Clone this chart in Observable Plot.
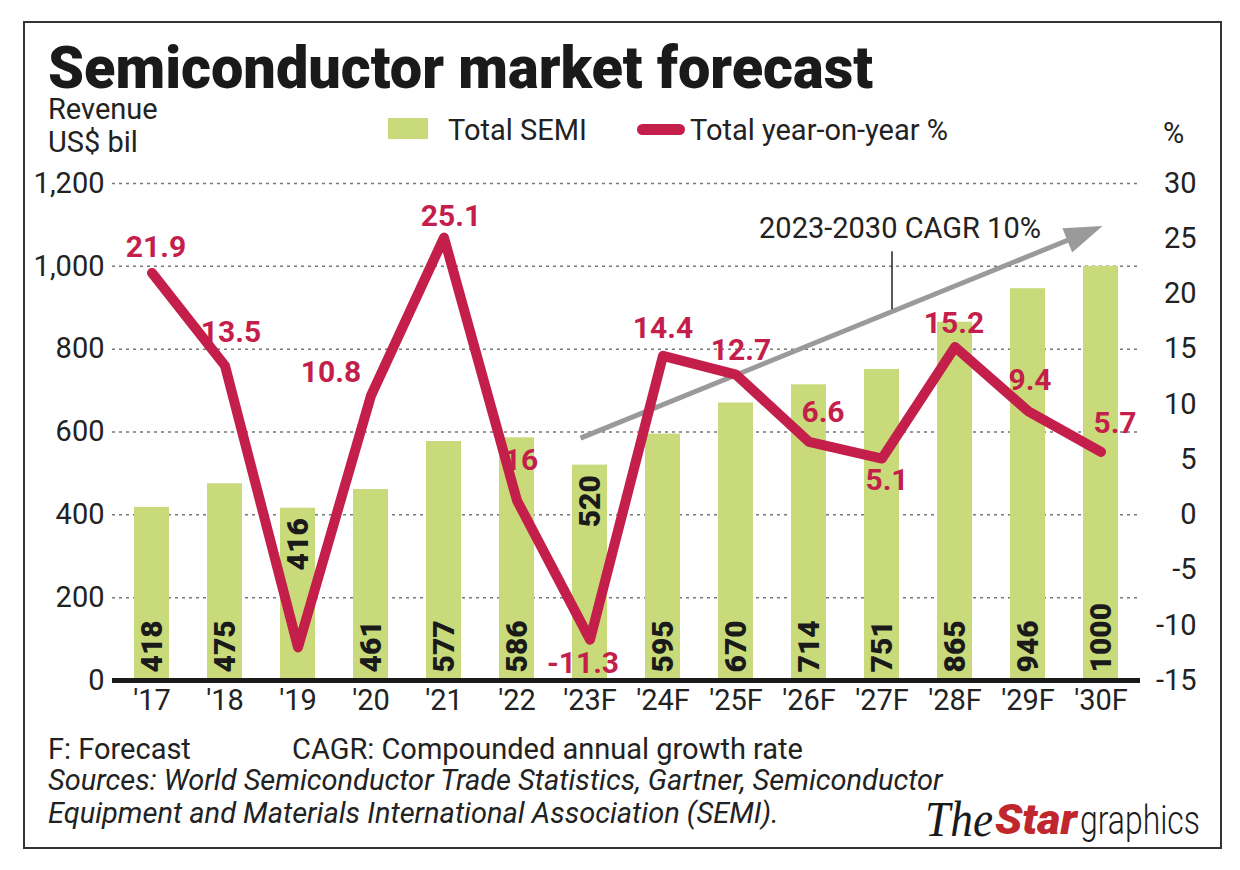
<!DOCTYPE html>
<html><head><meta charset="utf-8">
<script src="https://cdn.jsdelivr.net/npm/d3@7"></script>
<script src="https://cdn.jsdelivr.net/npm/@observablehq/plot@0.6"></script>
<style>
body{margin:0;background:#fff;font-family:Roboto,sans-serif;color:#222;}
#page{position:relative;width:1240px;height:870px;overflow:hidden;background:#fff;}
#frame{position:absolute;left:23px;top:21px;width:1195px;height:824px;border:2px solid #333;}
.t{position:absolute;white-space:nowrap;font-size:29px;line-height:1;}
#title{position:absolute;left:48px;top:42px;white-space:nowrap;font-size:60px;line-height:0.85;font-weight:900;color:#1a1a1a;transform-origin:0 50%;}
#chart{position:absolute;left:0;top:150px;}
.sw{position:absolute;}
</style></head><body>
<div id="page">
<div id="frame"></div>
<div id="title">Semiconductor market forecast</div>
<div class="t" style="left:48px;top:95px">Revenue</div>
<div class="t" style="left:48px;top:128px">US$ bil</div>
<div class="sw" style="left:388px;top:118px;width:40px;height:21px;background:#c9da7a"></div>
<div class="t" style="left:448px;top:116px">Total SEMI</div>
<div class="sw" style="left:637px;top:124px;width:48px;height:11px;border-radius:6px;background:#c41e4b"></div>
<div class="t" style="left:690px;top:116px">Total year-on-year %</div>
<div class="t" style="left:1163px;top:119px">%</div>
<div id="chart"></div>
<div class="t" style="left:48px;top:735px">F: Forecast</div>
<div class="t" style="left:292px;top:735px">CAGR: Compounded annual growth rate</div>
<div class="t" style="left:48px;top:766px;font-style:italic">Sources: World Semiconductor Trade Statistics, Gartner, Semiconductor</div>
<div class="t" style="left:48px;top:799px;font-style:italic">Equipment and Materials International Association (SEMI).</div>
<svg style="position:absolute;left:0;top:780px" width="1240" height="80">
  <text x="925" y="56" font-family="Liberation Serif" font-style="italic" font-size="50" fill="#1a1a1a" textLength="68" lengthAdjust="spacingAndGlyphs">The</text>
  <text x="995" y="54" font-family="Roboto" font-style="italic" font-weight="900" font-size="42" fill="#c0272d" textLength="82" lengthAdjust="spacingAndGlyphs">Star</text>
  <text x="1080" y="54" font-family="Roboto" font-weight="300" font-size="40" fill="#1a1a1a" textLength="120" lengthAdjust="spacingAndGlyphs">graphics</text>
</svg>
</div>
<script>
const years = ["'17","'18","'19","'20","'21","'22","'23F","'24F","'25F","'26F","'27F","'28F","'29F","'30F"];
const revenue = [418, 475, 416, 461, 577, 586, 520, 595, 670, 714, 751, 865, 946, 1000];
const yoy = [21.9, 13.5, -12.0, 10.8, 25.1, 1.3, -11.3, 14.4, 12.7, 6.6, 5.1, 15.2, 9.4, 5.7];
const yoyLabels = ["21.9", "13.5", "", "10.8", "25.1", "16", "-11.3", "14.4", "12.7", "6.6", "5.1", "15.2", "9.4", "5.7"];
const leftTicks = [0, 200, 400, 600, 800, 1000, 1200];
const rightTicks = [-15, -10, -5, 0, 5, 10, 15, 20, 25, 30];
const cagrText = "2023-2030 CAGR 10%";

// condense the title to the reference width
(function(){
  const t = document.getElementById("title");
  const w = t.getBoundingClientRect().width;
  if (w > 0) t.style.transform = "scaleX(" + (825 / w) + ")";
})();

// layout helpers (not data)
const topLabelYears = ["'19", "'23F"];
const labelNudge = {"'17":[4,-26],"'18":[6,-33],"'20":[-40,-23],"'21":[7,-21],"'22":[4,-40],"'23F":[-7,24],
  "'24F":[0,-27],"'25F":[5,-24],"'26F":[14,-30],"'27F":[5,22],"'28F":[-1,-24],"'29F":[2,-31],"'30F":[14,-28]};
const RED = "#c41e4b", GREEN = "#c9da7a";

const toL = p => (p + 15) * 1200 / 45;   // right axis (%) -> left axis units
const rows = years.map((y, i) => ({year: y, rev: revenue[i], yoy: yoy[i], lbl: yoyLabels[i]}));

const plot = Plot.plot({
  width: 1240, height: 570,
  marginLeft: 112, marginRight: 100, marginTop: 33, marginBottom: 40,
  style: {fontFamily: "Roboto", fontSize: "29px", color: "#222", background: "transparent", overflow: "visible"},
  x: {type: "band", domain: years, paddingInner: 0.52, paddingOuter: 0.25, label: null},
  y: {domain: [0, 1200], label: null},
  marks: [
    Plot.ruleY(leftTicks.filter(d => d > 0), {stroke: "#777", strokeWidth: 1.5, strokeDasharray: "3,4"}),
    Plot.barY(rows, {x: "year", y: "rev", fill: GREEN}),
    Plot.ruleY([0], {stroke: "#1a1a1a", strokeWidth: 5}),
    Plot.axisY(leftTicks, {anchor: "left", tickSize: 0, tickPadding: 8, tickFormat: d3.format(","), fontSize: 29}),
    Plot.text(rightTicks, {y: d => toL(d), text: d => String(d), frameAnchor: "right", dx: 56, textAnchor: "end", fontSize: 29, fill: "#222"}),
    Plot.axisX({tickSize: 0, tickPadding: 9, fontSize: 29}),
    Plot.text(rows.filter(d => !topLabelYears.includes(d.year)), {x: "year", y: 0, text: d => String(d.rev), rotate: -90, textAnchor: "start", dy: -8, fontWeight: 900, fontSize: 30, fill: "#1a1a1a"}),
    Plot.text(rows.filter(d => topLabelYears.includes(d.year)), {x: "year", y: "rev", text: d => String(d.rev), rotate: -90, textAnchor: "end", dy: 10, fontWeight: 900, fontSize: 30, fill: "#1a1a1a"}),
    Plot.line(rows, {x: "year", y: d => toL(d.yoy), stroke: RED, strokeWidth: 10, strokeLinejoin: "round", strokeLinecap: "round"}),
    ...rows.filter(d => d.lbl).map(d => Plot.text([d], {x: "year", y: r => toL(r.yoy), text: "lbl", dx: labelNudge[d.year][0], dy: labelNudge[d.year][1], fontWeight: 700, fontSize: 30, fill: RED})),
    Plot.ruleX([cagrText], {x: () => "'27F", y1: 895, y2: 1035, dx: 10, stroke: "#222", strokeWidth: 1.5}),
    Plot.text([cagrText], {x: () => "'27F", y: 1091, text: d => d, dx: 18, fontSize: 29, fill: "#222"})
  ]
});
document.getElementById("chart").appendChild(plot);

// CAGR trend arrow, positioned via the plot's own scales
(function(){
  const sx = plot.scale("x"), sy = plot.scale("y");
  const bw = sx.bandwidth || 0;
  const X = v => sx.apply(v) + bw / 2;
  const A = [X("'23F") - 9, sy.apply(584)];
  const T = [X("'30F") + 2, sy.apply(1096)];
  const len = Math.hypot(T[0] - A[0], T[1] - A[1]);
  const u = [(T[0] - A[0]) / len, (T[1] - A[1]) / len], n = [-u[1], u[0]];
  const hl = 38, hw = 13;
  const B = [T[0] - u[0] * hl, T[1] - u[1] * hl];
  const svg = d3.select(plot);
  const g = svg.append("g");
  g.append("line").attr("x1", A[0]).attr("y1", A[1]).attr("x2", B[0] + u[0] * 3).attr("y2", B[1] + u[1] * 3)
    .attr("stroke", "#9a9a9a").attr("stroke-width", 5);
  g.append("polygon").attr("points", [T, [B[0] + n[0] * hw, B[1] + n[1] * hw], [B[0] - n[0] * hw, B[1] - n[1] * hw]].map(p => p.join(",")).join(" "))
    .attr("fill", "#9a9a9a");
  const lineEl = svg.selectAll("g[aria-label='line']").node();
  if (lineEl) plot.insertBefore(g.node(), lineEl);
})();
</script>
</body></html>
